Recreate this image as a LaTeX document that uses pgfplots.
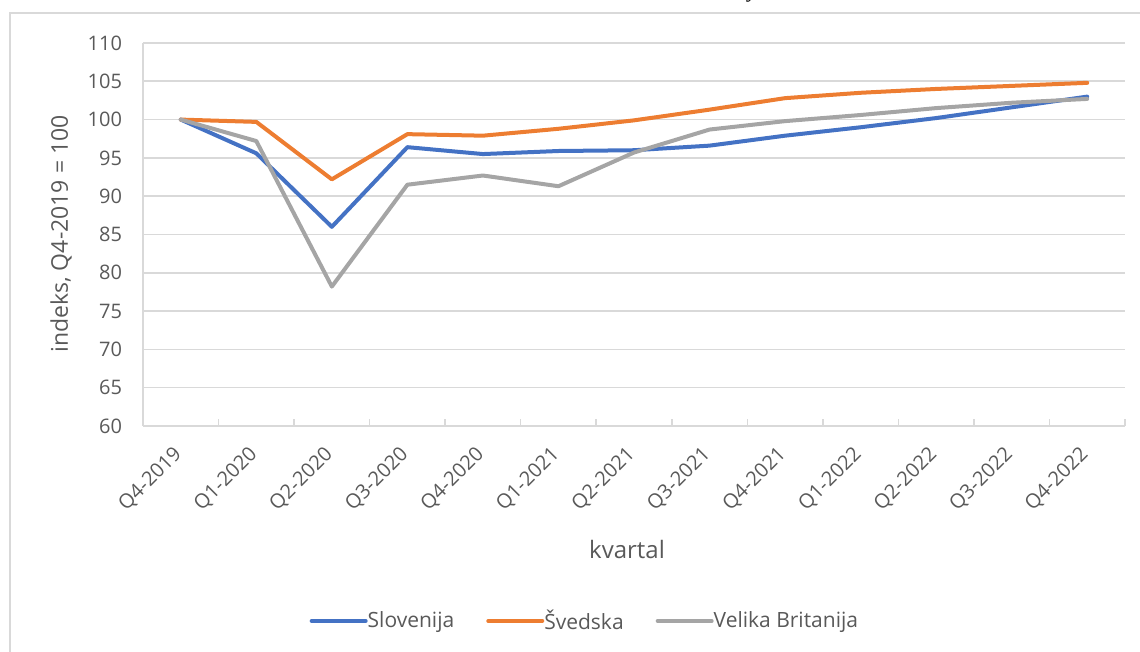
\documentclass[border=0pt]{standalone}
\usepackage{pgfplots}
\pgfplotsset{compat=1.18}
\usepackage{fontspec}
\setmainfont{Open Sans}
\newfontfamily\serifit{Liberation Serif}
\definecolor{cblue}{HTML}{4472C4}
\definecolor{corange}{HTML}{ED7D31}
\definecolor{cgray}{HTML}{A5A5A5}
\definecolor{ctext}{HTML}{595959}
\definecolor{cgrid}{HTML}{D9D9D9}
\begin{document}
\begin{tikzpicture}[x=0.5pt,y=0.5pt]
\useasboundingbox (0,0) rectangle (1140,652);
\draw[cgrid, line width=1pt] (10,-20) -- (10,639) -- (1160,639);
\node[anchor=base, font=\serifit\itshape\fontsize{11}{13}\selectfont, text=black] at (753,654) {y};
\begin{axis}[
  at={(71.5pt,113pt)}, anchor=south west,
  scale only axis, width=491pt, height=191.5pt,
  xmin=-0.5, xmax=12.5, ymin=60, ymax=110,
  ytick={60,65,...,110},
  xtick={0,...,12},
  xticklabels={Q4-2019,Q1-2020,Q2-2020,Q3-2020,Q4-2020,Q1-2021,Q2-2021,Q3-2021,Q4-2021,Q1-2022,Q2-2022,Q3-2022,Q4-2022},
  minor xtick={-0.5,0.5,...,12.5},
  major tick length=0pt,
  minor tick length=3.5pt,
  tick style={cgrid, line width=0.8pt},
  xtick pos=bottom, ytick pos=left,
  ymajorgrids, major grid style={cgrid, line width=0.8pt},
  axis line style={cgrid, line width=0.8pt},
  axis x line*=bottom, axis y line*=left,
  /pgf/number format/assume math mode=true,
  ticklabel style={font=\fontsize{10}{12}\selectfont, text=ctext},
  yticklabel style={xshift=-7pt},
  xticklabel style={anchor=east, inner sep=0pt, yshift=-12.5pt, xshift=-1pt, rotate=45},
  legend columns=3,
  legend style={draw=none, at={(0.451,-0.509)}, anchor=center, font=\fontsize{10.5}{12}\selectfont, text=ctext,
    /tikz/every even column/.append style={column sep=14pt},
    /tikz/every odd column/.append style={column sep=-2pt}},
  legend image code/.code={\draw[#1, line cap=round] (0pt,0pt) -- (27pt,0pt);},
  every axis plot/.append style={line width=2pt, line join=round, line cap=round, mark=none},
]
\addplot[cblue] coordinates {(0,100) (1,95.6) (2,86.0) (3,96.4) (4,95.5) (5,95.9) (6,96.0) (7,96.6) (8,97.9) (9,99.0) (10,100.2) (11,101.6) (12,103.0)};
\addplot[corange] coordinates {(0,100) (1,99.7) (2,92.2) (3,98.1) (4,97.9) (5,98.8) (6,99.9) (7,101.3) (8,102.8) (9,103.5) (10,104.0) (11,104.4) (12,104.8)};
\addplot[cgray] coordinates {(0,100) (1,97.2) (2,78.2) (3,91.5) (4,92.7) (5,91.3) (6,95.7) (7,98.7) (8,99.8) (9,100.6) (10,101.5) (11,102.2) (12,102.7)};
\legend{Slovenija,Švedska,Velika Britanija}
\end{axis}
\node[rotate=90, font=\fontsize{11.5}{13}\selectfont, text=ctext] at (61,418) {indeks, Q4-2019 = 100};
\node[font=\fontsize{12}{14}\selectfont, text=ctext] at (627,102) {kvartal};
\end{tikzpicture}
\end{document}
